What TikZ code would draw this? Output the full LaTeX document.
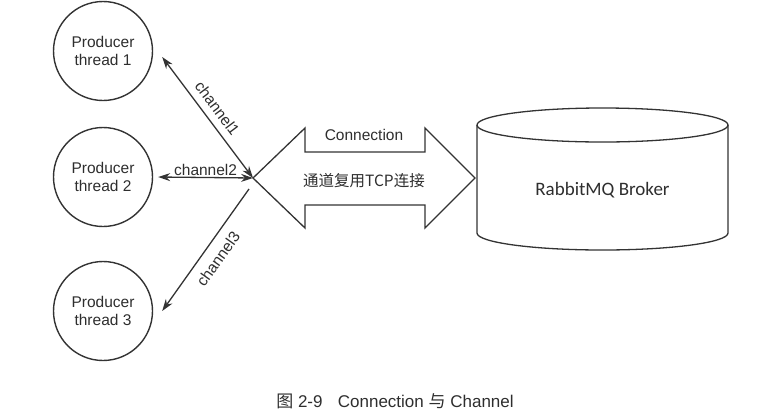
\documentclass[tikz,border=0pt]{standalone}
\usepackage{fontspec}
\setmainfont{Liberation Sans}
\newfontfamily\cjk{Noto Sans CJK SC}
\newfontfamily\brokerfont{Carlito}
\usetikzlibrary{arrows.meta}

\definecolor{inkgray}{HTML}{333333}
\definecolor{textgray}{HTML}{2E2E2E}

\tikzset{
  producer/.style={draw=inkgray, line width=1.4pt, circle, minimum size=99pt,
    inner sep=0pt, align=center, font=\fontsize{15.5}{18}\selectfont, text=textgray},
  chan/.style={draw=inkgray, line width=1.3pt, {Stealth[length=12pt,width=8pt]}-{Stealth[length=12pt,width=8pt]}},
  chanlabel/.style={font=\fontsize{15.5}{18}\selectfont, text=textgray, inner sep=1pt},
  outline/.style={draw=inkgray, line width=1.3pt}
}

\begin{document}
\begin{tikzpicture}[x=1pt, y=-1pt]
\useasboundingbox (0,0) rectangle (776,416);
\node[producer] (p1) at (103,51) {Producer\\thread 1};
\node[producer] (p2) at (103,177) {Producer\\thread 2};
\node[producer] (p3) at (103,311) {Producer\\thread 3};
\coordinate (hub) at (253,178);
\coordinate (hub3) at (249,189);
\coordinate (e1) at ([xshift=9pt,yshift=-6pt]p1.east);
\coordinate (e2) at ([xshift=5pt]p2.east);
\coordinate (e3) at ([xshift=9pt]p3.east);
% channels from the producers to the connection
\draw[chan] (e1) -- node[chanlabel, sloped, pos=0.49, above=6pt] {channel1} (hub);
\draw[chan] (e2) -- node[chanlabel, above] {channel2} (hub);
\draw[chan, {Stealth[length=12pt,width=8pt]}-] (e3) -- node[chanlabel, sloped, pos=0.5, below=8pt] {channel3} (hub3);
% connection: double arrow
\draw[outline] (hub) -- (305,128) -- (305,152) -- (425,152) -- (425,128) -- (475,178)
  -- (425,228) -- (425,205) -- (305,205) -- (305,228) -- cycle;
\node[chanlabel] (conn) at (364,135) {Connection};
\node[chanlabel, font=\cjk\fontsize{15.5}{18}\selectfont] (tcp) at (364,181) {通道复用TCP连接};
% broker cylinder
\draw[outline] (477,125) -- (477,233) arc[start angle=180, end angle=0, x radius=125.5, y radius=17] -- (728,125);
\draw[outline] (602.5,125) ellipse[x radius=125.5, y radius=17];
\node[font=\brokerfont\fontsize{19}{21}\selectfont, text=textgray] (broker) at (602.5,190) {RabbitMQ Broker};
% caption
\node[font=\fontsize{17}{19}\selectfont, text=textgray] (caption) at (395,401)
  {{\cjk 图} 2-9\hspace{0.9em}Connection {\cjk 与} Channel};
\end{tikzpicture}
\end{document}
